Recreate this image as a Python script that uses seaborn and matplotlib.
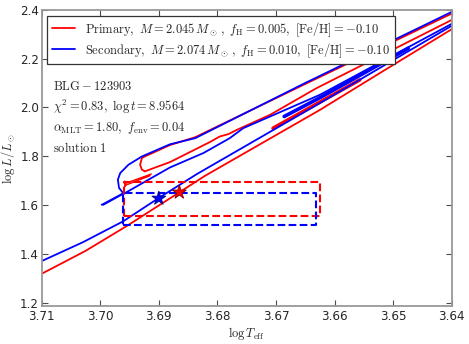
import matplotlib
matplotlib.use("Agg")
import matplotlib.pyplot as plt
import seaborn as sns

# ---- data (log Teff, log L/Lsun) ----
# primary (red) track pieces
red_rgb_T = [3.7100, 3.7025, 3.6954, 3.6865, 3.6821, 3.6625, 3.6520, 3.6400]
red_rgb_L = [1.318, 1.412, 1.515, 1.652, 1.720, 1.990, 2.145, 2.321]
red_top_T = [3.6400, 3.6653, 3.6838, 3.6881, 3.6924, 3.6929, 3.6932, 3.6929, 3.6924]
red_top_L = [2.385, 2.093, 1.878, 1.846, 1.799, 1.793, 1.765, 1.745, 1.738]
red_hook_T = [3.6913, 3.6958, 3.6958, 3.6958, 3.6956, 3.6915]
red_hook_L = [1.727, 1.688, 1.697, 1.676, 1.682, 1.720]
red_agb_T = [3.6924, 3.6881, 3.6813, 3.6796, 3.6781, 3.6767, 3.6710, 3.6631, 3.6400]
red_agb_L = [1.738, 1.776, 1.858, 1.881, 1.891, 1.908, 1.970, 2.079, 2.359]
red_band_T = [3.6705, 3.6625, 3.6557]
red_band_L = [1.915, 2.022, 2.113]

# secondary (blue) track pieces
blue_rgb_T = [3.7100, 3.7030, 3.6961, 3.6900, 3.6835, 3.6625, 3.6400]
blue_rgb_L = [1.370, 1.447, 1.533, 1.629, 1.727, 2.018, 2.335]
blue_top_T = [3.6400, 3.6653, 3.6838, 3.6881, 3.6929, 3.6952, 3.6966, 3.6970, 3.6968, 3.6961]
blue_top_L = [2.392, 2.097, 1.874, 1.849, 1.799, 1.765, 1.731, 1.704, 1.670, 1.649]
blue_tongue_T = [3.6961, 3.6998, 3.6995, 3.6960]
blue_tongue_L = [1.649, 1.601, 1.600, 1.646]
blue_agb_T = [3.6960, 3.6881, 3.6824, 3.6779, 3.6756, 3.6625, 3.6400]
blue_agb_L = [1.646, 1.754, 1.813, 1.874, 1.915, 2.052, 2.343]
blue_band_T = [3.6686, 3.6625, 3.6474]
blue_band_L = [1.963, 2.040, 2.243]

# observed boxes and best-fit points
red_box_T = [3.6959, 3.6625]
red_box_L = [1.553, 1.693]
blue_box_T = [3.6961, 3.6632]
blue_box_L = [1.517, 1.649]
star_T = [3.6865, 3.6900]
star_L = [1.652, 1.627]
star_colors = ["red", "blue"]

legend_labels = [
    r"$\mathrm{Primary},\ M=2.045\,M_\odot\,,\ f_{\rm H}=0.005,\ \mathrm{[Fe/H]}=-0.10$",
    r"$\mathrm{Secondary},\ M=2.074\,M_\odot\,,\ f_{\rm H}=0.010,\ \mathrm{[Fe/H]}=-0.10$",
]
info_lines = [
    r"$\mathrm{BLG}-123903$",
    r"$\chi^2=0.83,\ \log t=8.9564$",
    r"$\alpha_{\rm MLT}=1.80,\ f_{\rm env}=0.04$",
    r"$\mathrm{solution}\ 1$",
]

sns.set_theme(style="ticks")
plt.rcParams["font.family"] = ["DejaVu Sans"]
plt.rcParams["mathtext.fontset"] = "cm"

fig = plt.figure(figsize=(4.69, 3.44), dpi=100)
ax = fig.add_axes([0.089, 0.11, 0.874, 0.861])


def draw(T, L, color, lw=1.3, ls="-", label=None):
    sns.lineplot(x=T, y=L, sort=False, estimator=None, color=color, lw=lw,
                 ls=ls, ax=ax, label=label, legend=False)


draw(red_rgb_T, red_rgb_L, "red", label=legend_labels[0])
draw(red_top_T, red_top_L, "red")
draw(red_hook_T, red_hook_L, "red", lw=1.0)
draw(red_agb_T, red_agb_L, "red")
draw(red_band_T, red_band_L, "red", lw=2.6)

draw(blue_rgb_T, blue_rgb_L, "blue", label=legend_labels[1])
draw(blue_top_T, blue_top_L, "blue")
draw(blue_tongue_T, blue_tongue_L, "blue", lw=1.0)
draw(blue_agb_T, blue_agb_L, "blue")
draw(blue_band_T, blue_band_L, "blue", lw=2.6)

for bT, bL, c in [(red_box_T, red_box_L, "red"), (blue_box_T, blue_box_L, "blue")]:
    xs = [bT[0], bT[1], bT[1], bT[0], bT[0]]
    ys = [bL[0], bL[0], bL[1], bL[1], bL[0]]
    draw(xs, ys, c, lw=1.5, ls="--")

sns.scatterplot(x=star_T, y=star_L, hue=star_colors, palette={"red": "red", "blue": "blue"},
                marker="*", s=110, edgecolor=["#800000", "#000080"], linewidth=0.6,
                legend=False, ax=ax, zorder=5)

ax.set_xlim(3.71, 3.64)
ax.set_ylim(1.185, 2.4)
ax.set_xticks([3.71, 3.70, 3.69, 3.68, 3.67, 3.66, 3.65, 3.64])
ax.set_xticklabels(["3.71", "3.70", "3.69", "3.68", "3.67", "3.66", "3.65", "3.64"])
ax.set_yticks([1.2, 1.4, 1.6, 1.8, 2.0, 2.2, 2.4])
ax.set_yticklabels(["1.2", "1.4", "1.6", "1.8", "2.0", "2.2", "2.4"])
ax.tick_params(direction="in", length=4, width=0.8, color="0.3", labelsize=8.6,
               top=True, right=True)
ax.tick_params(axis="x", pad=3)
ax.tick_params(axis="y", pad=2)
for sp in ax.spines.values():
    sp.set_color("0.6")
    sp.set_linewidth(1.3)

ax.set_xlabel(r"$\log T_{\rm eff}$", fontsize=9, labelpad=1)
ax.set_ylabel(r"$\log L/L_\odot$", fontsize=9, labelpad=2)

leg = ax.legend(loc="upper left", fontsize=9, frameon=True, fancybox=False,
                handlelength=1.9, borderaxespad=0.45, labelspacing=0.2,
                borderpad=0.35)
leg.get_frame().set_edgecolor("0.2")
leg.get_frame().set_linewidth(0.9)
leg.get_frame().set_alpha(1)

for i, txt in enumerate(info_lines):
    ax.text(0.028, 0.74 - i * 0.069, txt, transform=ax.transAxes, fontsize=9,
            va="center", ha="left")

fig.savefig("out.png", dpi=100)
